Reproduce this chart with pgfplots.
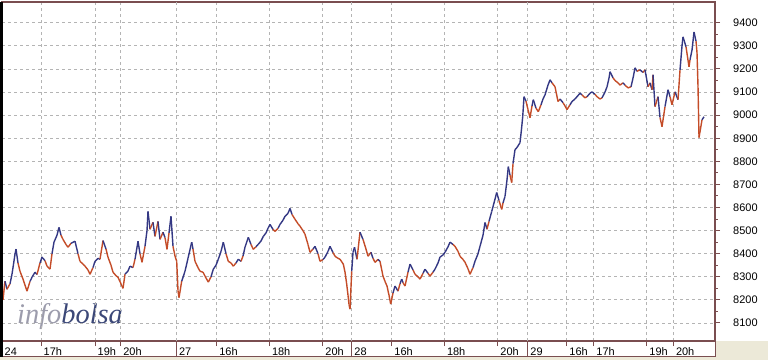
\documentclass[border=0pt]{standalone}
\usepackage{fontspec}
\setmainfont{Liberation Sans}
\newfontfamily\wmfont{Liberation Serif}
\usepackage{pgfplots}
\pgfplotsset{compat=1.18}
\usepackage{pgfplotstable}
\definecolor{beige}{HTML}{ECE9D8}
\definecolor{axbrown}{HTML}{7A4E50}
\definecolor{gridc}{HTML}{B4B4B4}
\definecolor{rd}{RGB}{196,76,40}
\definecolor{bl}{RGB}{52,56,132}
\definecolor{wmgray}{HTML}{9C9CAC}
\definecolor{wmblue}{HTML}{3C4878}

\pgfplotstableread{
x y c
2 8300 0
3 8200 0
5 8281 1
7 8246 0
10 8270 1
12 8311 1
15 8398 1
16 8420 1
18 8360 0
20 8324 0
23 8290 0
27 8238 0
30 8280 1
32 8298 1
35 8320 1
37 8310 0
40 8360 1
42 8385 1
45 8370 0
47 8346 0
50 8333 0
52 8400 1
54 8450 1
57 8480 1
59 8514 1
61 8480 0
63 8462 0
66 8440 0
68 8428 0
71 8445 1
75 8454 1
78 8400 0
80 8367 0
83 8355 0
85 8346 0
88 8330 0
90 8311 0
93 8340 1
95 8367 1
98 8380 1
100 8376 0
103 8457 1
106 8420 0
108 8385 0
111 8350 0
113 8320 0
116 8305 0
118 8298 0
121 8270 0
123 8250 0
125 8311 1
128 8325 1
130 8346 1
133 8340 0
135 8376 1
138 8454 1
140 8400 0
142 8363 0
145 8432 1
147 8500 1
148 8583 1
150 8506 0
153 8536 1
155 8475 0
158 8540 1
160 8462 0
163 8493 1
165 8470 0
167 8419 0
169 8490 1
171 8562 1
173 8432 0
175 8390 0
176.7 8367 0
178 8240 0
179 8210 0
181.7 8281 1
185 8324 1
188 8380 1
191.7 8450 1
193 8420 0
195 8367 0
198 8340 0
200 8324 0
203 8320 0
205 8303 0
208.3 8277 0
211 8300 1
213.3 8333 1
216 8350 1
218.3 8376 1
221 8410 1
223.3 8450 1
226 8400 0
228.3 8367 0
231 8360 0
233.3 8346 0
236 8360 1
238.3 8376 1
241 8367 0
243 8390 1
245 8428 1
248.3 8471 1
251 8440 0
253.3 8419 0
256 8430 1
258.3 8441 1
261 8455 1
263.3 8475 1
266 8490 1
268 8510 1
270 8527 1
273 8505 0
275 8497 0
278 8510 1
280 8527 1
283 8545 1
285 8562 1
288 8575 1
290 8596 1
292 8570 0
295 8549 0
298 8530 0
300 8519 0
303 8500 0
305 8484 0
308 8440 0
310 8406 0
313 8420 1
315 8432 1
318 8400 0
320 8367 0
323 8375 1
325 8385 1
328 8410 1
330 8432 1
333 8405 0
335 8389 0
338 8380 0
340 8376 0
343.3 8355 0
345 8320 0
346.7 8268 0
348 8220 0
349 8180 0
350 8160 0
351.7 8324 1
353 8406 1
354.5 8428 1
357 8376 0
360 8493 1
363 8462 0
366 8420 0
368 8389 0
371 8406 1
373 8380 0
375 8363 0
378 8375 1
380 8367 0
383 8303 0
385 8280 0
387 8260 0
389 8220 0
390.7 8182 0
393 8230 1
395 8260 1
398 8238 0
400 8270 1
401.7 8290 1
403 8275 0
405 8260 0
408 8320 1
410 8355 1
413 8330 0
415 8311 0
418 8300 0
420 8290 0
423 8315 1
425 8333 1
428 8315 0
430 8303 0
433 8320 1
435 8333 1
438 8360 1
440 8385 1
443 8395 1
445 8406 1
448 8430 1
450 8450 1
453 8440 0
455 8432 0
458 8410 0
460 8389 0
463 8375 0
465 8363 0
468 8335 0
470 8311 0
473 8340 1
475 8367 1
478 8400 1
480 8432 1
483 8480 1
485 8535 1
487 8506 0
489 8540 1
491.7 8583 1
494 8620 1
496.7 8665 1
499 8630 0
501.7 8592 0
503 8620 1
505 8648 1
507 8720 1
508.3 8777 1
510 8740 0
511.7 8708 0
513 8790 1
515 8851 1
517 8860 1
520 8881 1
521.5 8940 1
522.7 8993 1
524 9080 1
526 9060 0
528 9024 0
530 8989 0
532 9040 1
533.3 9067 1
536 9030 0
538.3 9015 0
541 9045 1
543 9070 1
545 9088 1
548 9130 1
550 9153 1
552 9140 0
555 9123 0
558 9059 0
560 9070 1
563 9054 0
565 9040 0
567 9024 0
570 9045 1
572 9059 1
575 9070 1
577 9080 1
580 9095 1
582 9088 0
585 9075 0
587 9080 1
590 9095 1
592 9101 1
595 9090 0
597 9080 0
600 9070 0
602 9075 1
605 9100 1
607 9123 1
609 9160 1
610 9188 1
613 9162 0
615 9150 0
618 9140 0
620 9130 0
623 9140 1
625 9130 0
628 9118 0
631 9123 1
633 9160 1
635 9205 1
637 9190 0
640 9196 1
643 9185 0
645 9196 1
648 9123 0
650 9140 1
652 9110 0
653 9175 1
655 9037 0
658 9080 1
660 8990 0
662 8950 0
665 9037 1
668 9110 1
670 9080 0
672 9045 0
675 9101 1
678 9067 0
680 9196 1
682 9300 1
683 9339 1
686 9296 0
689 9209 0
690 9240 1
692 9282 1
694 9360 1
696 9320 0
697 9270 0
698 9123 0
699 8903 0
702 8980 1
704 8993 1
}\dat

\begin{document}
\begin{tikzpicture}[x=1bp,y=1bp]
\fill[beige] (0,0) rectangle (768,360);
\fill[white] (0,19) rectangle (768,360);
\fill[white] (0,3) rectangle (716,19);
\draw[axbrown, line width=1bp] (0,3.5) -- (715.5,3.5) -- (715.5,19);
\node[anchor=base west, inner sep=0pt, font=\wmfont\itshape\fontsize{28.5}{28.5}\selectfont] at (17,37) {\textcolor{wmgray}{info}\textcolor{wmblue}{bolsa}};
\begin{axis}[
  at={(2bp,19bp)}, anchor=south west, scale only axis,
  width=713bp, height=339bp,
  xmin=2, xmax=715, ymin=8022, ymax=9490,
  axis line style={axbrown, line width=1.5bp},
  xtick={41,95,120.7,216.7,269.3,322.7,391.7,444.3,497.7,566.7,593.7,646.7,673.3},
  xticklabels={17h,19h,20h,16h,18h,20h,16h,18h,20h,16h,17h,19h,20h},
  extra x ticks={2,176.3,351.7,527.7},
  extra x tick labels={24,27,28,29},
  extra x tick style={major tick length=16bp, grid=major, xticklabel style={yshift=11bp}},
  ytick={8100,8200,...,9400},
  minor y tick num=1,
  xtick pos=bottom, ytick pos=right, yticklabel pos=right,
  tick align=outside,
  major tick length=5bp, minor tick length=2.5bp,
  tick style={axbrown, line width=1bp},
  grid=major,
  major grid style={gridc, dash pattern=on 3bp off 3bp, line width=0.8bp},
  tick label style={font=\fontsize{11}{13}\selectfont, text=black},
  xticklabel style={anchor=north west, inner sep=0pt, xshift=2.5bp, yshift=-1.5bp},
  yticklabel style={anchor=west, inner sep=0pt, xshift=13bp},
  /pgf/number format/1000 sep={},
  /pgf/number format/assume math mode=true,
  colormap={ud}{color=(rd) color=(bl)},
  point meta min=0, point meta max=1,
]
\addplot[mesh, shader=flat corner, line width=1.4bp, point meta=\thisrow{c}] table[x=x, y=y] {\dat};
\end{axis}
\fill[black] (0,3) rectangle (2.5,358);
\pgfresetboundingbox
\path[use as bounding box] (0,0) rectangle (768,360);
\end{tikzpicture}
\end{document}
